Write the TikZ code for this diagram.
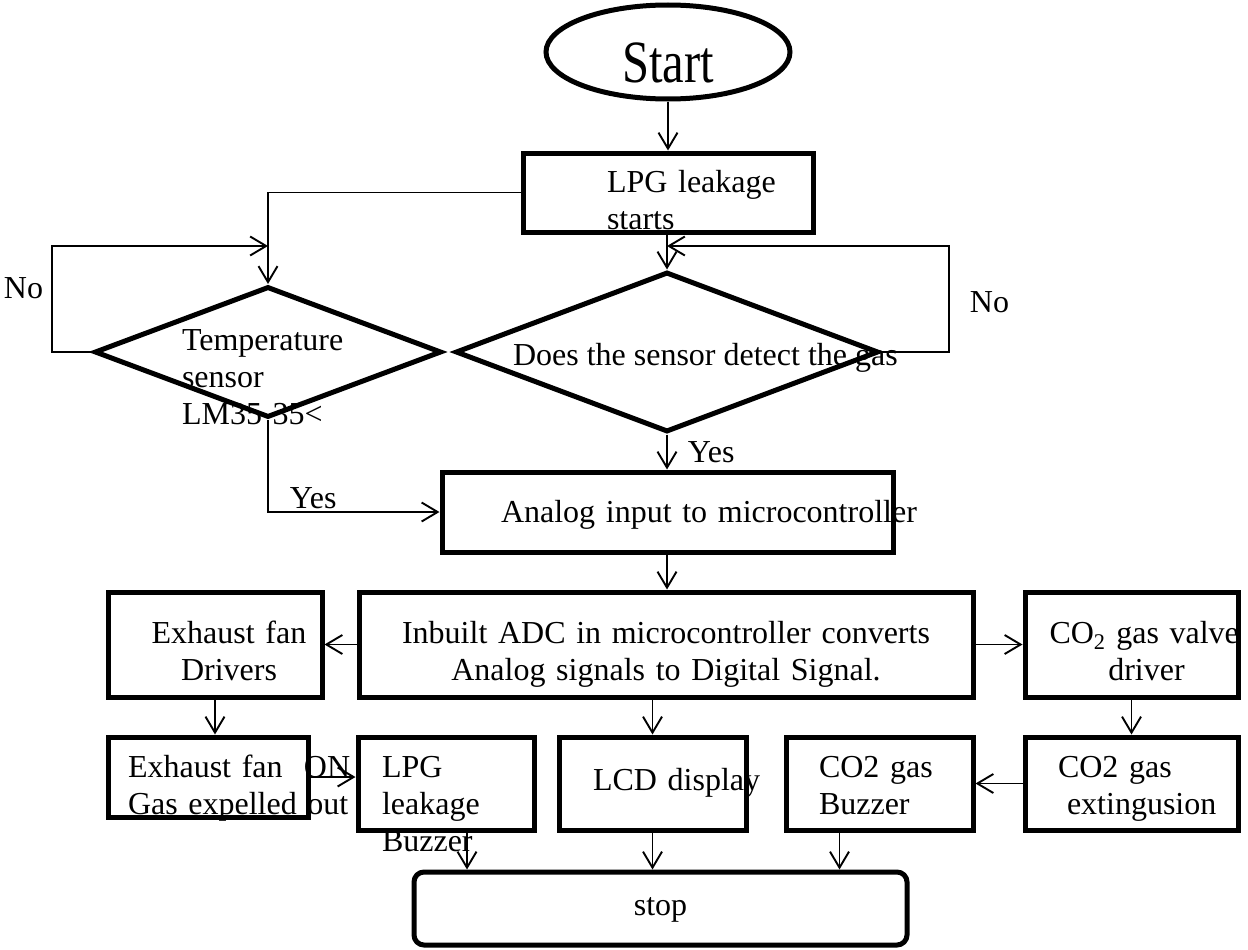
\documentclass[tikz,border=0pt]{standalone}
\usepackage{fontspec}
\usepackage{graphicx}
\setmainfont{Liberation Serif}
\usetikzlibrary{shapes.geometric,arrows.meta}
\hyphenpenalty=10000
\exhyphenpenalty=10000

\tikzset{
  blk/.style={draw,rectangle,line width=5pt,inner sep=0pt,text height=21pt},
  dec/.style={draw,diamond,line width=5pt,inner sep=0pt,text height=21pt},
  arr/.style={line width=1.9pt,-{Straight Barb[length=16pt,width=19pt]}},
  lbl/.style={inner sep=0pt},
}

\begin{document}
\begin{tikzpicture}[x=1pt,y=-1pt,font=\fontsize{32}{37}\selectfont]
\useasboundingbox (0,0) rectangle (1248,950);

% start / stop
\node[draw,ellipse,line width=5pt,minimum width=244pt,minimum height=94pt,inner sep=0pt,
      text height=62pt,text depth=0pt,font=\fontsize{60}{72}\selectfont] (start) at (668,52) {\scalebox{0.81}[1]{Start}};
\node[blk,rounded corners=10pt,minimum width=493pt,minimum height=73pt] (stop) at (660.5,908.5) {stop};

% top part
\node[blk,minimum width=290pt,minimum height=79pt,text width=122pt,align=left,text depth=22pt] (lpg) at (668,192.5) {LPG~leakage\\starts};
\node[dec,aspect=2.65,minimum width=347pt,minimum height=131pt,text width=172pt,align=left,text depth=25pt] (temp) at (268,352) {Temperature\\sensor\\LM35 35<};
\node[dec,aspect=2.64,minimum width=423pt,minimum height=160pt,text height=26pt,text depth=0pt] (gas) at (667,352) {\makebox[308pt][l]{Does the sensor detect the gas}};
\node[blk,minimum width=451pt,minimum height=80pt,text width=333pt,align=left,text depth=1pt] (analog) at (667.5,512) {Analog~input~to~microcontroller};

% middle row
\node[blk,minimum width=614pt,minimum height=105pt,text width=560pt,align=center,text depth=24pt] (adc) at (666,644.5) {Inbuilt ADC in microcontroller converts\\Analog signals to Digital Signal.};
\node[blk,minimum width=214pt,minimum height=105pt,text width=190pt,align=center,text depth=24pt] (drv) at (215,644.5) {\hspace*{28pt}Exhaust fan\\\hspace*{28pt}Drivers};
\node[blk,minimum width=213pt,minimum height=105pt,text width=200pt,align=center,text depth=24pt] (valve) at (1131.5,644.5) {\hspace*{18pt}CO\textsubscript{2}~gas~valve\\\hspace*{30pt}driver};

% bottom row
\node[blk,minimum width=200pt,minimum height=80pt,text width=160pt,align=left,text depth=21pt] (exon) at (208,777) {Exhaust~fan~~ON\\Gas~expelled~out};
\node[blk,minimum width=176pt,minimum height=93pt,text width=128pt,align=left,text depth=34pt] (lpgbz) at (446,783.5) {LPG\\leakage\\Buzzer};
\node[blk,minimum width=187pt,minimum height=93pt,text width=119pt,align=left,text depth=8pt] (lcd) at (652.5,783.5) {LCD~display};
\node[blk,minimum width=187pt,minimum height=93pt,text width=121pt,align=left,text depth=34pt] (cobz) at (879.5,783.5) {CO2~gas\\Buzzer};
\node[blk,minimum width=213pt,minimum height=93pt,text width=147pt,align=left,text depth=34pt] (ext) at (1131.5,783.5) {CO2~gas\\\hspace*{9pt}extingusion};

\coordinate (tjoin) at (268,246);
\coordinate (gjoin) at (667,246);

\draw[arr] (start) -- (start.south |- lpg.north);
\draw[arr] (lpg.south -| gas.north) -- (gas);
\draw[arr] (lpg.west) -| (temp.north);
\draw[arr] (temp.west) -- ++(-40,0) |- node[lbl,pos=0.3,left=8pt] {No} (tjoin);
\draw[arr] (gas.east) -- ++(68,0) |- node[lbl,pos=0.235,right=20pt] {No} (gjoin);
\draw[arr] (gas) -- node[lbl,right=20pt] {Yes} (gas.south |- analog.north);
\draw[arr] (temp.south) |- node[lbl,pos=0.5,anchor=south west,xshift=21pt,yshift=2pt] {Yes} (analog.west);
\draw[arr] (analog.south -| gas.south) -- (gas.south |- adc.north);
\draw[arr] (adc.west) -- (drv.east);
\draw[arr] (adc.east) -- (valve.west);
\draw[arr] (lcd.north |- adc.south) -- (lcd.north);
\draw[arr] (drv.south) -- (drv.south |- exon.north);
\draw[arr] (valve) -- (ext);
\draw[arr] (exon.east) -- (exon.east -| lpgbz.west);
\draw[arr] (ext) -- (cobz);
\draw[arr] ([xshift=21pt]lpgbz.south) -- ([xshift=21pt]lpgbz.south |- stop.north);
\draw[arr] (lcd) -- (lcd.south |- stop.north);
\draw[arr] ([xshift=-40pt]cobz.south) -- ([xshift=-40pt]cobz.south |- stop.north);
\end{tikzpicture}
\end{document}
